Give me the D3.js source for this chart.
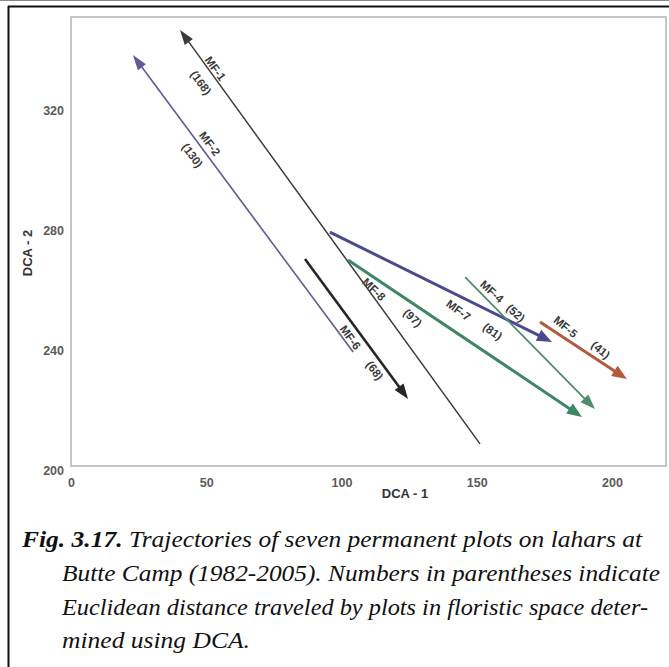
<!DOCTYPE html>
<html>
<head>
<meta charset="utf-8">
<script src="https://cdn.jsdelivr.net/npm/d3@7/dist/d3.min.js"></script>
<style>
  html, body { margin: 0; padding: 0; background: #fff; }
  svg { display: block; }
  .cap { font-family: "Liberation Serif", "Times New Roman", serif; font-style: italic; font-size: 24px; }
</style>
</head>
<body>
<script>
// ---------- data ----------
const plots     = ["MF-1", "MF-2", "MF-6", "MF-7", "MF-8", "MF-4", "MF-5"];
const distances = [168, 130, 68, 81, 97, 52, 41];
const startX    = [151.2, 104.3,  86.5,  95.7, 102.4, 145.7, 173.4];
const startY    = [208.7, 239.3, 270.3, 279.3, 270.0, 264.3, 249.3];
const endX      = [ 40.3,  22.9, 124.6, 177.8, 188.9, 193.7, 205.5];
const endY      = [346.7, 338.3, 223.7, 242.7, 217.7, 220.3, 230.3];
const xTicks    = [0, 50, 100, 150, 200];
const yTicks    = [200, 240, 280, 320];
const xTitle    = "DCA - 1";
const yTitle    = "DCA - 2";
const captionLines = [
  [["Fig. 3.17.", true], [" Trajectories of seven permanent plots on lahars at", false]],
  [["Butte Camp (1982-2005). Numbers in parentheses indicate", false]],
  [["Euclidean distance traveled by plots in floristic space deter-", false]],
  [["mined using DCA.", false]]
];

// ---------- styles / layout ----------
const styles = {
  "MF-1": { color: "#3a3a3a", width: 1.5, head: [15, 10] },
  "MF-2": { color: "#5e5c98", width: 1.6, head: [15, 10] },
  "MF-6": { color: "#262626", width: 2.6, head: [15, 11] },
  "MF-7": { color: "#4a4a8e", width: 3.0, head: [15, 12] },
  "MF-8": { color: "#3d8764", width: 3.0, head: [15, 12] },
  "MF-4": { color: "#4f8c6e", width: 1.8, head: [15, 11] },
  "MF-5": { color: "#b25a3b", width: 3.0, head: [15, 12] }
};
// label placement: distance along from upper-left end, offset (+ = above line), extra tilt
const labelLayout = {
  "MF-1": [52, 6, 55, -14, 0],
  "MF-2": [117, 9, 116, -12, 0],
  "MF-6": [90, -10, 131, -10, 0],
  "MF-7": [150, -13, 190, -17, 10],
  "MF-8": [38, -10, 86, -12, 10],
  "MF-4": [29, 9, 61, 11, -4],
  "MF-5": [24, 10, 66, 10, 6]
};

const W = 669, H = 667;
const svg = d3.select("body").append("svg").attr("width", W).attr("height", H);

// page frame
svg.append("line").attr("x1", 0).attr("x2", W).attr("y1", 0.5).attr("y2", 0.5)
  .attr("stroke", "#8a8a8a").attr("stroke-width", 1);
svg.append("line").attr("x1", 8).attr("x2", W).attr("y1", 6.5).attr("y2", 6.5)
  .attr("stroke", "#111").attr("stroke-width", 2);
svg.append("line").attr("x1", 8.5).attr("x2", 8.5).attr("y1", 6).attr("y2", H)
  .attr("stroke", "#111").attr("stroke-width", 2);

// scales
const x = d3.scaleLinear().domain([0, 200]).range([71, 612]);
const y = d3.scaleLinear().domain([200, 320]).range([470, 110]);

// plot frame
svg.append("rect").attr("x", 71).attr("y", 17).attr("width", 595).attr("height", 449)
  .attr("fill", "#fff").attr("stroke", "#b8b8b8").attr("stroke-width", 1.6);

// axes (labels only)
const tickFont = "bold 12.5px 'Liberation Sans', Arial, sans-serif";
const xAxis = svg.append("g").attr("transform", "translate(0,478)")
  .call(d3.axisBottom(x).tickValues(xTicks).tickSize(0).tickPadding(0));
xAxis.select(".domain").remove();
xAxis.selectAll("text").style("font", tickFont).attr("fill", "#5a5a5a").attr("dy", "0.71em");

const yAxis = svg.append("g").attr("transform", "translate(64,0)")
  .call(d3.axisLeft(y).tickValues(yTicks).tickSize(0).tickPadding(0));
yAxis.select(".domain").remove();
yAxis.selectAll("text").style("font", tickFont).attr("fill", "#5a5a5a");

svg.append("text").attr("x", 405).attr("y", 498).attr("text-anchor", "middle")
  .style("font", "bold 13px 'Liberation Sans', Arial, sans-serif").attr("fill", "#333")
  .text(xTitle);
svg.append("text").attr("transform", "translate(32,253) rotate(-90)").attr("text-anchor", "middle")
  .style("font", "bold 13px 'Liberation Sans', Arial, sans-serif").attr("fill", "#333")
  .text(yTitle);

// trajectories
const gArrows = svg.append("g");
plots.forEach((name, i) => {
  const st = styles[name];
  const x0 = x(startX[i]), y0 = y(startY[i]), x1 = x(endX[i]), y1 = y(endY[i]);
  const dx = x1 - x0, dy = y1 - y0, len = Math.hypot(dx, dy);
  const ux = dx / len, uy = dy / len;
  const [hl, hw] = st.head;
  const bx = x1 - ux * hl, by = y1 - uy * hl;
  gArrows.append("line").attr("x1", x0).attr("y1", y0)
    .attr("x2", x1 - ux * (hl - 2)).attr("y2", y1 - uy * (hl - 2))
    .attr("stroke", st.color).attr("stroke-width", st.width);
  const px = -uy, py = ux;
  gArrows.append("path")
    .attr("d", `M${x1},${y1}L${bx + px * hw / 2},${by + py * hw / 2}L${bx - px * hw / 2},${by - py * hw / 2}Z`)
    .attr("fill", st.color);

  // labels: oriented along the line, reading left to right
  let ax, ay, bx2, by2;
  if (x0 <= x1) { ax = x0; ay = y0; bx2 = x1; by2 = y1; } else { ax = x1; ay = y1; bx2 = x0; by2 = y0; }
  const ddx = bx2 - ax, ddy = by2 - ay, dl = Math.hypot(ddx, ddy);
  const vx = ddx / dl, vy = ddy / dl;
  const [na, no, da, dOff, tilt] = labelLayout[name];
  const ang = Math.atan2(vy, vx) * 180 / Math.PI + tilt;
  const lab = (along, off, txt) => {
    const cx = ax + vx * along + vy * off, cy = ay + vy * along - vx * off;
    svg.append("text")
      .attr("transform", `translate(${cx},${cy}) rotate(${ang})`)
      .attr("x", 0).attr("y", 0).attr("dy", "0.35em")
      .attr("text-anchor", "middle")
      .style("font", "bold 11.5px 'Liberation Sans', Arial, sans-serif")
      .attr("fill", "#3a3a3a")
      .text(txt);
  };
  lab(na, no, name);
  lab(da, dOff, "(" + distances[i] + ")");
});

// caption
const capX = [22, 62, 62, 62];
const capY = [547, 581, 615, 648];
const capLen = [620, 598, 586, 188];
captionLines.forEach((parts, k) => {
  const t = svg.append("text").attr("class", "cap").attr("x", capX[k]).attr("y", capY[k])
    .attr("fill", "#111")
    .attr("textLength", capLen[k]).attr("lengthAdjust", "spacingAndGlyphs");
  parts.forEach(([s, b]) => {
    t.append("tspan").attr("font-weight", b ? "bold" : "normal").text(s);
  });
});
</script>
</body>
</html>
